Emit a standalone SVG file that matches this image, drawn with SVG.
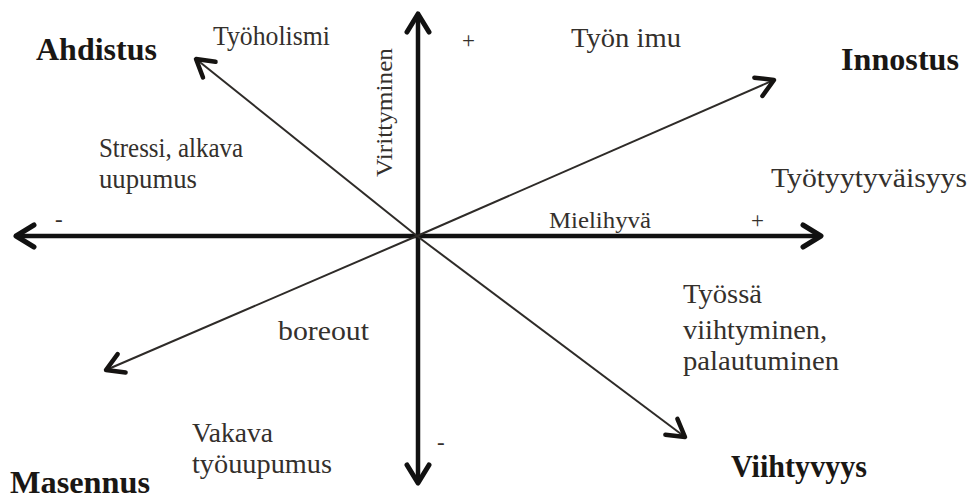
<svg xmlns="http://www.w3.org/2000/svg" width="968" height="501" viewBox="0 0 968 501">
<style>
.t{font-family:"Liberation Serif","DejaVu Serif",serif;font-size:27px;fill:#34302c}
.b{font-family:"Liberation Serif","DejaVu Serif",serif;font-size:31px;font-weight:bold;fill:#1a1714}
.s{font-family:"Liberation Serif","DejaVu Serif",serif;font-size:23px;fill:#34302c}
.axis{stroke:#111;stroke-width:4.5;fill:none}
.diag{stroke:#2e2b28;stroke-width:2;fill:none}
</style>
<defs>
<marker id="ah" markerUnits="userSpaceOnUse" viewBox="-24 -14 28 28" markerWidth="28" markerHeight="28" refX="0" refY="0" orient="auto-start-reverse">
<path d="M-18,-11 L0,0 L-18,11" fill="none" stroke="#111" stroke-width="5" stroke-linecap="round" stroke-linejoin="round"/>
</marker>
<marker id="dh" markerUnits="userSpaceOnUse" viewBox="-24 -14 28 28" markerWidth="28" markerHeight="28" refX="0" refY="0" orient="auto">
<path d="M-17,-10 L0,0 L-17,10" fill="none" stroke="#151311" stroke-width="4.5" stroke-linecap="round" stroke-linejoin="round"/>
</marker>
</defs>
<rect width="968" height="501" fill="#fff"/>
<g id="connectors">
<line class="axis" x1="16" y1="236" x2="821" y2="236" marker-start="url(#ah)" marker-end="url(#ah)"/>
<line class="axis" x1="418" y1="14" x2="418" y2="483" marker-start="url(#ah)" marker-end="url(#ah)"/>
<line class="diag" x1="417" y1="236" x2="774" y2="80" marker-end="url(#dh)"/>
<line class="diag" x1="417" y1="236" x2="196" y2="59" marker-end="url(#dh)"/>
<line class="diag" x1="417" y1="236" x2="106" y2="370" marker-end="url(#dh)"/>
<line class="diag" x1="417" y1="236" x2="685" y2="437" marker-end="url(#dh)"/>
</g>
<g id="ahdistus"><text class="b" x="36" y="60" textLength="121" lengthAdjust="spacingAndGlyphs">Ahdistus</text></g>
<g id="innostus"><text class="b" x="841" y="70" textLength="118" lengthAdjust="spacingAndGlyphs">Innostus</text></g>
<g id="masennus"><text class="b" x="10" y="493" textLength="140" lengthAdjust="spacingAndGlyphs">Masennus</text></g>
<g id="viihtyvyys"><text class="b" x="731" y="477" textLength="136" lengthAdjust="spacingAndGlyphs">Viihtyvyys</text></g>
<g id="tyoholismi"><text class="t" x="213" y="45" textLength="117" lengthAdjust="spacingAndGlyphs">Työholismi</text></g>
<g id="stressi">
<text class="t" x="99" y="157" textLength="144" lengthAdjust="spacingAndGlyphs">Stressi, alkava</text>
<text class="t" x="99" y="188" textLength="98" lengthAdjust="spacingAndGlyphs">uupumus</text>
</g>
<g id="virittyminen"><text class="s" transform="translate(392,177) rotate(-90)" x="0" y="0" textLength="129" lengthAdjust="spacingAndGlyphs">Virittyminen</text></g>
<g id="plus-top"><text class="s" x="462" y="48">+</text></g>
<g id="tyon-imu"><text class="t" x="571" y="47" textLength="110" lengthAdjust="spacingAndGlyphs">Työn imu</text></g>
<g id="tyotyytyvaisyys"><text class="t" x="771" y="187" textLength="196" lengthAdjust="spacingAndGlyphs">Työtyytyväisyys</text></g>
<g id="mielihyva"><text class="s" x="549" y="228" textLength="102" lengthAdjust="spacingAndGlyphs">Mielihyvä</text></g>
<g id="plus-right"><text class="s" x="751" y="228">+</text></g>
<g id="minus-left"><text class="s" x="55" y="227">-</text></g>
<g id="minus-bottom"><text class="s" x="437" y="450">-</text></g>
<g id="boreout"><text class="t" x="278" y="340" textLength="91" lengthAdjust="spacingAndGlyphs">boreout</text></g>
<g id="vakava">
<text class="t" x="192" y="442" textLength="81" lengthAdjust="spacingAndGlyphs">Vakava</text>
<text class="t" x="192" y="473" textLength="140" lengthAdjust="spacingAndGlyphs">työuupumus</text>
</g>
<g id="tyossa">
<text class="t" x="683" y="303" textLength="79" lengthAdjust="spacingAndGlyphs">Työssä</text>
<text class="t" x="683" y="339" textLength="144" lengthAdjust="spacingAndGlyphs">viihtyminen,</text>
<text class="t" x="683" y="370" textLength="156" lengthAdjust="spacingAndGlyphs">palautuminen</text>
</g>
</svg>
